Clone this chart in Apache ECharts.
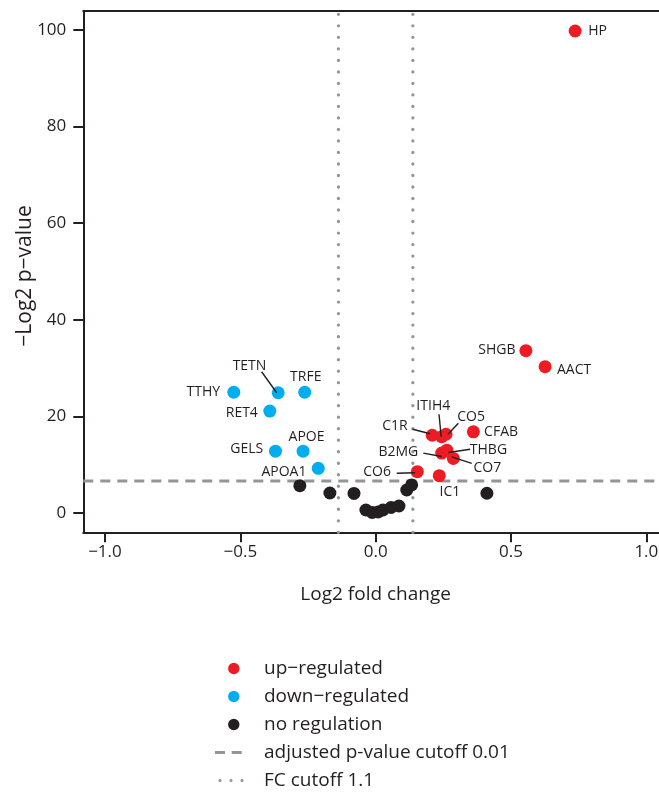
<!DOCTYPE html>
<html>
<head>
<meta charset="utf-8">
<script src="https://cdn.jsdelivr.net/npm/echarts@6/dist/echarts.min.js"></script>
<style>html,body{margin:0;padding:0;background:#fff;overflow:hidden}#c{width:668px;height:793px}</style>
</head>
<body>
<div id="c"></div>
<script>
// ---- data ----
const upNames = ['HP','SHGB','AACT','C1R','ITIH4','CO5','CFAB','THBG','B2MG','CO7','CO6','IC1'];
const upX = [0.737,0.555,0.626,0.209,0.244,0.260,0.361,0.263,0.244,0.287,0.154,0.235];
const upY = [99.8,33.6,30.3,16.1,15.8,16.3,16.8,13.0,12.4,11.3,8.55,7.72];
const downNames = ['TTHY','TETN','TRFE','RET4','GELS','APOE','APOA1'];
const downX = [-0.524,-0.360,-0.262,-0.391,-0.370,-0.268,-0.212];
const downY = [25.0,24.9,25.0,21.1,12.8,12.8,9.25];
const noX = [-0.280,-0.169,-0.080,-0.036,-0.013,0.009,0.027,0.057,0.086,0.115,0.133,0.411];
const noY = [5.65,4.14,4.04,0.62,0.10,0.20,0.62,1.14,1.45,4.76,5.80,4.08];
const xTicks = [-1.0,-0.5,0,0.5,1.0];
const yTicks = [0,20,40,60,80,100];
const pCutoff = 0.01;
const fcCutoff = 1.1;

// ---- styles ----
const RED = '#ed1c24', BLUE = '#00aeef', BLACK = '#231f20', GRAY = '#939598', TXT = '#231f20';
const FONT = "'Open Sans', sans-serif";
const xMin = -1.08, xMax = 1.08, yMin = -4, yMax = 104;
// label text centre offsets from the point (px)
const labelOffset = {
  HP:[22.5,0.5], SHGB:[-29,-0.5], AACT:[29,3.3], C1R:[-37.3,-9.3], ITIH4:[-8.4,-31],
  CO5:[25,-17.6], CFAB:[27.7,0.6], THBG:[41.6,0], B2MG:[-43.4,-1], CO7:[34,10],
  CO6:[-40.3,0.6], IC1:[10.7,16], TTHY:[-30.5,-0.5], TETN:[-28.7,-26.7], TRFE:[1,-15.7],
  RET4:[-28,2.3], GELS:[-28.7,-1.7], APOE:[3.4,-13.7], APOA1:[-34.3,3.4]
};
// leader line: start offset (x,y) and end offset (x,y) relative to the point (px)
const leaderOffset = {
  TETN:[-16.6,-21,-1.5,0], C1R:[-19.6,-6,-2,-1.5], ITIH4:[-2.7,-22.4,-0.5,0],
  CO5:[12.3,-11,2,0], THBG:[23.3,-1,1.6,2.3], B2MG:[-18.4,0,0,3.4],
  CO7:[18.4,5,-1.6,-1.6], CO6:[-20.6,1.6,-2.3,1]
};

function mk(names, xs, ys) {
  return names.map((n, i) => ({
    name: n, value: [xs[i], ys[i]],
    label: { offset: labelOffset[n] || [0, 0] }
  }));
}
const allNames = upNames.concat(downNames);
const allX = upX.concat(downX);
const allY = upY.concat(downY);
const leaderNames = allNames.filter(n => leaderOffset[n]);
const leaderData = leaderNames.map(n => { const i = allNames.indexOf(n); return [allX[i], allY[i]]; });

const pLine = -Math.log2(pCutoff);
const fcLine = Math.log2(fcCutoff);
const fmtMinus = (s) => String(s).replace('-', '\u2212');

const labelCfg = { show: true, position: 'inside', formatter: '{b}', color: TXT, fontSize: 14, fontFamily: FONT };

const circleIcon = 'path://M0,0M46,14M26.5,7A5.7,5.7,0,1,1,15.1,7A5.7,5.7,0,1,1,26.5,7Z';
const dashIcon = 'path://M0,0M46,14M2,5.5h10v3h-10zM18.7,5.5h10v3h-10z';
const dotIcon = 'path://M0,0M46,14M8.6,7A1.6,1.6,0,1,1,5.4,7A1.6,1.6,0,1,1,8.6,7ZM19.6,7A1.6,1.6,0,1,1,16.4,7A1.6,1.6,0,1,1,19.6,7ZM30.6,7A1.6,1.6,0,1,1,27.4,7A1.6,1.6,0,1,1,30.6,7Z';

const chart = echarts.init(document.getElementById('c'), null, { renderer: 'canvas' });
chart.setOption({
  animation: false,
  textStyle: { fontFamily: FONT, color: TXT },
  grid: { left: 83.3, top: 10.7, right: 0, bottom: 260.7, containLabel: false },
  xAxis: [{
    type: 'value', min: xMin, max: xMax, position: 'bottom',
    axisLine: { show: true, onZero: false, lineStyle: { color: TXT, width: 2 } },
    axisTick: { show: true, length: 10, customValues: xTicks, lineStyle: { color: TXT, width: 2 } },
    axisLabel: { customValues: xTicks, formatter: v => fmtMinus(v.toFixed(1)), fontSize: 17, color: TXT, margin: 11, fontFamily: FONT },
    splitLine: { show: false },
    name: 'Log2 fold change', nameLocation: 'middle', nameGap: 53,
    nameTextStyle: { fontSize: 19, color: TXT, fontFamily: FONT }
  }, {
    type: 'value', min: xMin, max: xMax, position: 'top',
    axisLine: { show: true, onZero: false, lineStyle: { color: TXT, width: 2 } },
    axisTick: { show: false }, axisLabel: { show: false }, splitLine: { show: false }
  }],
  yAxis: [{
    type: 'value', min: yMin, max: yMax,
    axisLine: { show: true, onZero: false, lineStyle: { color: TXT, width: 2 } },
    axisTick: { show: true, length: 10, customValues: yTicks, lineStyle: { color: TXT, width: 2 } },
    axisLabel: { customValues: yTicks, formatter: v => String(v), fontSize: 17, color: TXT, margin: 17, fontFamily: FONT },
    splitLine: { show: false },
    name: '\u2212Log2 p\u2212value', nameLocation: 'middle', nameGap: 48, nameRotate: 90, nameMoveOverlap: false,
    nameTextStyle: { fontSize: 21, color: TXT, fontFamily: FONT, padding: [0, 9, 0, 0] }
  }],
  legend: {
    orient: 'vertical', left: 208, top: 654, height: 300, itemWidth: 46, itemHeight: 14, itemGap: 9,
    symbolKeepAspect: false, selectedMode: false,
    itemStyle: { borderWidth: 0 },
    textStyle: { fontSize: 19, color: TXT, fontFamily: FONT },
    data: [
      { name: 'up\u2212regulated', icon: circleIcon, itemStyle: { color: RED, borderWidth: 0 } },
      { name: 'down\u2212regulated', icon: circleIcon, itemStyle: { color: BLUE, borderWidth: 0 } },
      { name: 'no regulation', icon: circleIcon, itemStyle: { color: BLACK, borderWidth: 0 } },
      { name: 'adjusted p-value cutoff 0.01', icon: dashIcon, itemStyle: { color: GRAY, borderWidth: 0 } },
      { name: 'FC cutoff 1.1', icon: dotIcon, itemStyle: { color: GRAY, borderWidth: 0 } }
    ]
  },
  series: [
    { name: 'adjusted p-value cutoff 0.01', type: 'line', data: [[xMin, pLine], [xMax, pLine]], symbol: 'none', silent: true, z: 1,
      lineStyle: { color: GRAY, width: 3, type: [10, 7] }, color: GRAY },
    { name: 'FC cutoff 1.1', type: 'line', data: [[-fcLine, yMin], [-fcLine, yMax]], symbol: 'none', silent: true, z: 1,
      lineStyle: { color: GRAY, width: 3.3, type: [0.01, 11.5], cap: 'round' }, color: GRAY },
    { name: 'FC cutoff 1.1', type: 'line', data: [[fcLine, yMin], [fcLine, yMax]], symbol: 'none', silent: true, z: 1,
      lineStyle: { color: GRAY, width: 3.3, type: [0.01, 11.5], cap: 'round' }, color: GRAY },
    { name: 'no regulation', type: 'scatter', data: noX.map((x, i) => [x, noY[i]]), symbolSize: 13, z: 2,
      itemStyle: { color: BLACK, opacity: 1 }, silent: true },
    { name: 'up\u2212regulated', type: 'scatter', data: mk(upNames, upX, upY), symbolSize: 13, z: 3,
      itemStyle: { color: RED, opacity: 1 }, label: labelCfg, silent: true },
    { name: 'down\u2212regulated', type: 'scatter', data: mk(downNames, downX, downY), symbolSize: 13, z: 3,
      itemStyle: { color: BLUE, opacity: 1 }, label: labelCfg, silent: true },
    { name: 'leaders', type: 'custom', data: leaderData, z: 4, silent: true, clip: false,
      renderItem: (params, api) => {
        const p = api.coord([api.value(0), api.value(1)]);
        const o = leaderOffset[leaderNames[params.dataIndex]];
        return { type: 'line', shape: { x1: p[0] + o[0], y1: p[1] + o[1], x2: p[0] + o[2], y2: p[1] + o[3] },
                 style: { stroke: BLACK, lineWidth: 1.4 } };
      } }
  ]
});
</script>
</body>
</html>
